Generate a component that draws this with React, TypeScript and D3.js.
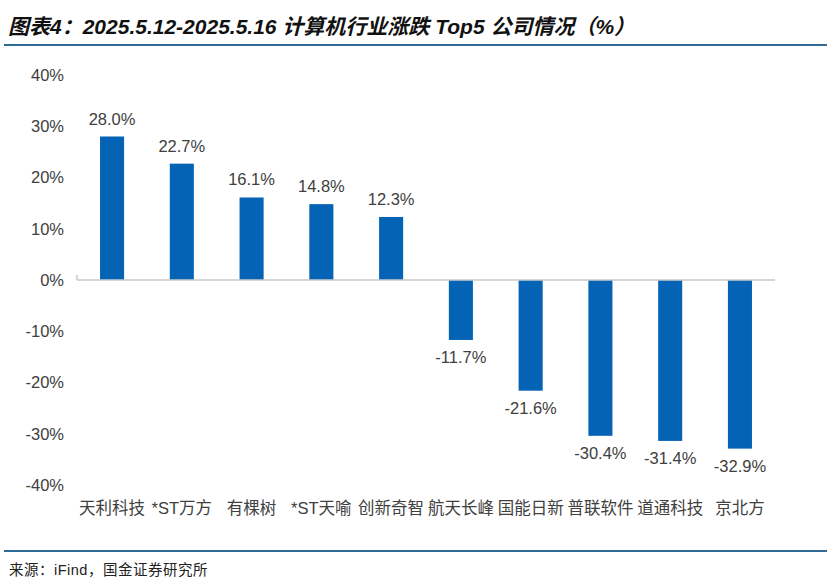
import * as d3 from 'd3';

const categories = ['天利科技', '*ST万方', '有棵树', '*ST天喻', '创新奇智', '航天长峰', '国能日新', '普联软件', '道通科技', '京北方'];
const values = [28.0, 22.7, 16.1, 14.8, 12.3, -11.7, -21.6, -30.4, -31.4, -32.9];
const yTicks = [40, 30, 20, 10, 0, -10, -20, -30, -40];

const W = 831;
const H = 583;
const FONT = '"Liberation Sans", Arial, "Noto Sans CJK SC", sans-serif';

export default function App() {
  const x = d3.scaleBand<string>().domain(categories).range([77, 775]).paddingInner(0.655).paddingOuter(0.33);
  const y = d3.scaleLinear().domain([-40, 40]).range([485, 75]);
  const bw = x.bandwidth();

  return (
    <svg width={W} height={H} style={{ position: 'absolute', left: 0, top: 0, background: '#fff' }} fontFamily={FONT}>
      <text x={8} y={34} fontSize={21} fontWeight="bold" fontStyle="italic" fill="#111">
        图表4：2025.5.12-2025.5.16 计算机行业涨跌 Top5 公司情况（%）
      </text>
      <line x1={4} x2={827} y1={45} y2={45} stroke="#2f6b96" strokeWidth={2} />

      {yTicks.map((t) => (
        <text key={t} x={64} y={y(t)} dy="0.36em" textAnchor="end" fontSize={16.5} fill="#404040">
          {`${t}%`}
        </text>
      ))}

      {categories.map((c, i) => {
        const v = values[i];
        const y0 = y(0);
        const yv = y(v);
        const cx = (x(c) ?? 0) + bw / 2;
        return (
          <g key={c}>
            <rect x={x(c)} width={bw} y={Math.min(y0, yv)} height={Math.abs(yv - y0)} fill="#0563b5" />
            <text
              x={cx}
              y={v >= 0 ? yv - 12 : yv + 23}
              textAnchor="middle"
              fontSize={16.5}
              fill="#404040"
            >
              {`${v.toFixed(1)}%`}
            </text>
            <text x={cx} y={514} textAnchor="middle" fontSize={16.5} fill="#404040">
              {c}
            </text>
          </g>
        );
      })}

      <line x1={77} x2={775} y1={y(0)} y2={y(0)} stroke="#c8c8c8" strokeWidth={1.5} />
      <line x1={77} x2={77} y1={y(0)} y2={y(0) - 5} stroke="#c8c8c8" strokeWidth={1.5} />

      <line x1={4} x2={827} y1={551} y2={551} stroke="#2f6b96" strokeWidth={2} />
      <text x={9} y={575} fontSize={14.5} letterSpacing={0.5} fill="#222">来源：iFind，国金证券研究所</text>
    </svg>
  );
}
